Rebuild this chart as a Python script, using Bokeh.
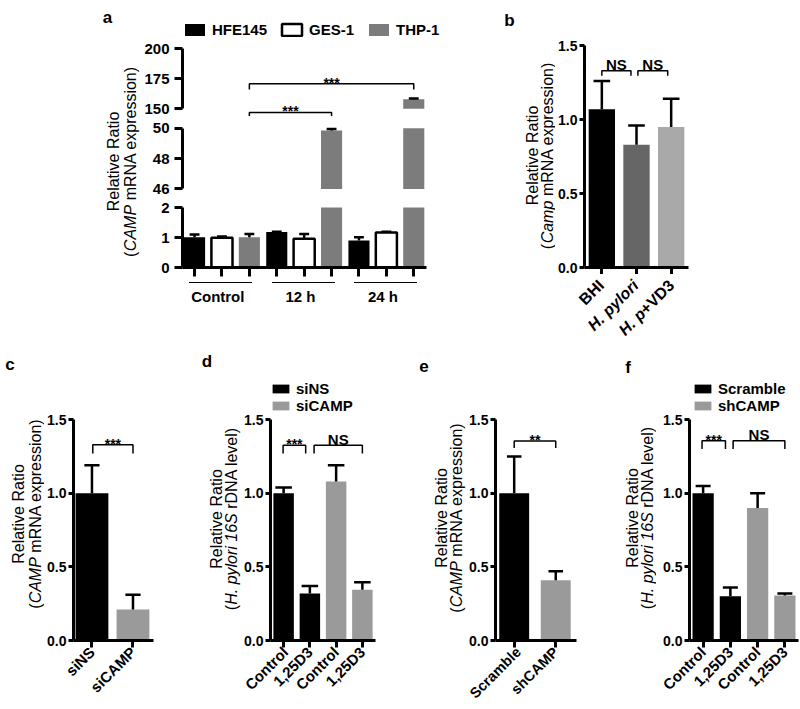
import math
from bokeh.plotting import figure
from bokeh.layouts import row, column
from bokeh.models import (Range1d, FixedTicker, ColumnDataSource, Legend, LegendItem,
                          NumeralTickFormatter, Div)
from bokeh.core.properties import value
from bokeh.embed import file_html
from bokeh.resources import INLINE

FONT = "Liberation Sans"
NAN = float("nan")

# ---------------- data ----------------
# panel a
a_groups = ["Control", "12 h", "24 h"]
a_series = ["HFE145", "GES-1", "THP-1"]
a_hfe145 = [1.01, 1.18, 0.90]
a_hfe145_err = [0.09, 0.01, 0.11]
a_ges1 = [0.99, 0.96, 1.17]
a_ges1_err = [0.04, 0.16, 0.02]
a_thp1 = [1.01, 49.85, 158.0]
a_thp1_err = [0.11, 0.10, 0.5]
a_segments = [(0, 2), (46, 50), (150, 200)]
a_seg_ticks = [[0, 1, 2], [46, 48, 50], [150, 175, 200]]

# panel b
b_cats = ["BHI", "H. pylori", "H. p+VD3"]
b_cats_italic_part = ["", "H. pylori", "H. p"]
b_vals = [1.07, 0.83, 0.95]
b_err = [0.19, 0.13, 0.19]

# panel c
c_cats = ["siNS", "siCAMP"]
c_vals = [1.00, 0.21]
c_err = [0.19, 0.10]

# panel d
d_cats = ["Control", "1,25D3", "Control", "1,25D3"]
d_series = ["siNS", "siCAMP"]
d_sins = [1.00, 0.32]
d_sins_err = [0.04, 0.05]
d_sicamp = [1.08, 0.345]
d_sicamp_err = [0.11, 0.05]

# panel e
e_cats = ["Scramble", "shCAMP"]
e_vals = [1.00, 0.41]
e_err = [0.25, 0.06]

# panel f
f_cats = ["Control", "1,25D3", "Control", "1,25D3"]
f_series = ["Scramble", "shCAMP"]
f_scr = [1.00, 0.30]
f_scr_err = [0.05, 0.06]
f_sh = [0.90, 0.305]
f_sh_err = [0.10, 0.015]

# ---------------- styles ----------------
BLACK = "#000000"
GRAY = "#9a9a9a"
A_COLORS = {"HFE145": ("#000000", None, 1), "GES-1": ("#ffffff", "#000000", 2.5),
            "THP-1": ("#7c7c7c", None, 1)}
B_COLORS = ["#000000", "#666666", "#a9a9a9"]

REG = {' ': 278, '(': 333, ')': 333, '.': 278, '+': 584, ',': 278, '-': 333,
       'A': 667, 'B': 667, 'C': 722, 'D': 722, 'E': 667, 'F': 611, 'G': 778, 'H': 722,
       'I': 278, 'M': 833, 'N': 722, 'P': 667, 'R': 722, 'S': 667, 'V': 667,
       'a': 556, 'b': 556, 'c': 500, 'd': 556, 'e': 556, 'i': 222, 'l': 222, 'm': 833,
       'n': 556, 'o': 556, 'p': 556, 'r': 333, 's': 500, 't': 278, 'v': 500, 'x': 500, 'y': 500}


def tw(s, size):
    return sum(REG.get(ch, 556) for ch in s) * size / 1000.0


def clean(p):
    p.min_border = 0
    p.outline_line_color = None
    p.grid.visible = False
    p.background_fill_color = "white"
    p.border_fill_color = "white"


def base_fig(width, height, xr, yr, mbl, mbr, mbt, mbb, xaxis=True, yaxis=True):
    p = figure(width=width, height=height, x_range=xr, y_range=yr,
               output_backend="svg", toolbar_location=None, tools="",
               x_axis_location="below" if xaxis else None,
               y_axis_location="left" if yaxis else None)
    clean(p)
    p.min_border_left = mbl
    p.min_border_right = mbr
    p.min_border_top = mbt
    p.min_border_bottom = mbb
    return p


def strip(x0, x1, y0, y1):
    """A text-only strip whose data units equal the page's pixels (y downwards)."""
    p = figure(width=x1 - x0, height=y1 - y0, x_range=Range1d(x0, x1),
               y_range=Range1d(y1, y0), output_backend="svg", toolbar_location=None,
               tools="", x_axis_location=None, y_axis_location=None)
    clean(p)
    return p


def style_axis(ax, size, tick_out, standoff):
    ax.axis_line_width = 3
    ax.axis_line_color = "black"
    ax.major_tick_line_width = 3
    ax.major_tick_line_color = "black"
    ax.major_tick_in = 0
    ax.major_tick_out = tick_out
    ax.minor_tick_line_color = None
    ax.major_label_text_font = FONT
    ax.major_label_text_font_style = "bold"
    ax.major_label_text_font_size = size
    ax.major_label_text_color = "black"
    ax.major_label_standoff = standoff


def label_free_ticks(ax, ticks, tick_out):
    """Tick marks without labels: drawn as minor ticks styled like major ones."""
    ax.ticker = FixedTicker(ticks=[], minor_ticks=list(ticks))
    ax.axis_line_width = 3
    ax.axis_line_color = "black"
    ax.minor_tick_line_color = "black"
    ax.minor_tick_line_width = 3
    ax.minor_tick_in = 0
    ax.minor_tick_out = tick_out
    ax.major_tick_line_color = None


def errbars(p, xs, vals, errs, cap):
    src = ColumnDataSource(dict(
        x=list(xs), y0=list(vals), y1=[v + e for v, e in zip(vals, errs)],
        xl=[x - cap / 2 for x in xs], xr=[x + cap / 2 for x in xs]))
    p.segment(x0="x", y0="y0", x1="x", y1="y1", source=src, line_color="black", line_width=2.5)
    p.segment(x0="xl", y0="y1", x1="xr", y1="y1", source=src, line_color="black", line_width=2.5)


def txt(p, x, y, s, size, style="normal", angle=0.0, align="left", baseline="middle",
        xo=0.0, yo=0.0):
    p.text(x=[x], y=[y], text=[s], angle=angle, text_font=value(FONT),
           text_font_size=f"{size}px", text_font_style=style, text_align=align,
           text_baseline=baseline, text_color="black", x_offset=xo, y_offset=yo)


def bracket(p, x1, x2, y, drop, text, size, dy):
    p.line(x=[x1, x1, x2, x2], y=[y - drop, y, y, y - drop], line_color="black", line_width=1.5)
    txt(p, (x1 + x2) / 2, y, text, size, style="bold", align="center",
        baseline="alphabetic", yo=dy)


def ylabel(p, x1, x2, yc, line1, pieces, size=16, pad=0.3):
    """Two-line vertical axis title; line 2 = regular '(' + italic part + regular rest."""
    txt(p, x1, yc, line1, size, angle=math.pi / 2, align="center")
    (open_t, _), (ital_t, _), (rest_t, _) = pieces
    rest = rest_t.lstrip(" ")
    space = (len(rest_t) - len(rest)) * REG[" "] * size / 1000.0
    w_open, w_ital, w_rest = tw(open_t, size), tw(ital_t, size), tw(rest, size)
    total = w_open + w_ital + space + w_rest + 2 * pad
    y0 = yc + total / 2
    txt(p, x2, y0, open_t, size, angle=math.pi / 2, align="left")
    j1 = y0 - w_open - pad
    j2 = j1 - w_ital - space - pad
    txt(p, x2, (j1 + j2 + space) / 2, ital_t, size, style="italic",
        angle=math.pi / 2, align="center")
    txt(p, x2, j2, rest, size, angle=math.pi / 2, align="left")


# ---- HTML text boxes (used where a canvas strip would be too small) ----
CSS_FONT = f"font-family:'{FONT}',Arial,sans-serif;color:#000;"


def html_box(ox, oy, w, h, parts):
    inner = "".join(parts)
    html = (f'<div style="position:relative;width:{w}px;height:{h}px;overflow:hidden;'
            f'{CSS_FONT}">{inner}</div>')
    return Div(text=html, width=w, height=h, margin=0)


def h_vlabel(ox, oy, x1, x2, yc, line1, line2, size=16):
    lx, ly, lh = (x1 + x2) / 2 - ox, yc - oy, x2 - x1
    return (f'<div style="position:absolute;left:{lx:.1f}px;top:{ly:.1f}px;'
            f'transform:translate(-50%,-50%) rotate(-90deg);white-space:nowrap;'
            f'text-align:center;font-size:{size}px;line-height:{lh:.1f}px;">'
            f'{line1}<br>{line2}</div>')


def h_letter(ox, oy, x, baseline, ch, size=17):
    cy = baseline - 0.3465 * size
    return (f'<div style="position:absolute;left:{x - ox:.1f}px;top:{cy - oy:.1f}px;'
            f'transform:translate(-50%,-50%);font-size:{size}px;line-height:{size}px;'
            f'font-weight:bold;">{ch}</div>')


def h_text(ox, oy, x, y, html, size, bold=True):
    fw = "bold" if bold else "normal"
    return (f'<div style="position:absolute;left:{x - ox:.1f}px;top:{y - oy:.1f}px;'
            f'transform:translate(-50%,-50%);font-size:{size}px;line-height:{size}px;'
            f'font-weight:{fw};white-space:nowrap;">{html}</div>')


def h_hline(ox, oy, x0, x1, y, lw=1.5):
    return (f'<div style="position:absolute;left:{x0 - ox:.1f}px;top:{y - oy - lw / 2:.1f}px;'
            f'width:{x1 - x0:.1f}px;height:0;border-top:{lw}px solid #000;"></div>')


def h_rot45(ox, oy, w, ax, ay, html, size):
    return (f'<div style="position:absolute;right:{w - (ax - ox):.1f}px;'
            f'top:{ay - oy - size / 2:.1f}px;height:{size}px;line-height:{size}px;'
            f'font-size:{size}px;font-weight:bold;white-space:nowrap;'
            f'transform-origin:100% 50%;transform:rotate(-45deg);">{html}</div>')


CAMP_PIECES = [("(", False), ("CAMP", True), (" mRNA expression)", False)]
CAMP_LOWER = [("(", False), ("Camp", True), (" mRNA expression)", False)]
CAMP_HTML = "(<i>CAMP</i> mRNA expression)"
HP_HTML = "(<i>H. pylori 16S</i> rDNA level)"

TOP_H = 340
BOT_H = 369

# ---------------- panel a ----------------
A_W, A_MBL, A_LEFT = 319, 40, 141
A_PX = 27.5
A_X0 = -0.44
a_xr = Range1d(A_X0, A_X0 + (A_W - A_MBL) / A_PX)
a_top = base_fig(A_W, 119, a_xr, Range1d(141.08, 240.25), A_MBL, 0, 0, 0, xaxis=False)
a_mid = base_fig(A_W, 79, a_xr, Range1d(45.375, 50.572), A_MBL, 0, 0, 0, xaxis=False)
a_bot = base_fig(A_W, 83, a_xr, Range1d(0, 2.3), A_MBL, 0, 0, 14)

series_vals = [a_hfe145, a_ges1, a_thp1]
series_errs = [a_hfe145_err, a_ges1_err, a_thp1_err]
top_renderers = {}
for (lo, hi), ticks, p in zip(a_segments, a_seg_ticks, [a_bot, a_mid, a_top]):
    for s_i, (name, vals, errs) in enumerate(zip(a_series, series_vals, series_errs)):
        xs = [3 * g + s_i for g in range(len(a_groups))]
        tops = [min(v, hi) if v > lo else NAN for v in vals]
        src = ColumnDataSource(dict(x=xs, top=tops))
        fill, line, lw = A_COLORS[name]
        r = p.vbar(x="x", top="top", bottom=lo, width=0.77, source=src,
                   fill_color=fill, line_color=line, line_width=lw)
        if p is a_top:
            top_renderers[name] = r
        ek = [(x, v, e) for x, v, e in zip(xs, vals, errs) if lo <= v <= hi]
        if ek:
            errbars(p, [k[0] for k in ek], [k[1] for k in ek], [k[2] for k in ek], 0.36)
    ax = p.yaxis[0]
    style_axis(ax, "15px", 8, 5)
    ax.ticker = FixedTicker(ticks=ticks)
    ax.bounds = (lo, hi)

bx = a_bot.xaxis[0]
label_free_ticks(bx, range(9), 9)
bx.bounds = (-0.44, 8.47)

bracket(a_top, 2, 5, 146.9, 2.9, "***", 14, -1.5)
bracket(a_top, 2, 8, 170.8, 4.7, "***", 14, -1)

leg_a = Legend(items=[LegendItem(label=n, renderers=[top_renderers[n]]) for n in a_series],
               orientation="horizontal", location=(0, 81), glyph_width=25, glyph_height=15,
               label_standoff=5, spacing=12, padding=0, margin=0, border_line_color=None,
               background_fill_alpha=0, label_text_font=FONT, label_text_font_style="bold",
               label_text_font_size="15px", label_text_color="black", label_height=15)
a_top.add_layout(leg_a)


def a_px(x):
    """page x of a bar-index position in panel a"""
    return A_LEFT + A_MBL + (x - A_X0) * A_PX


grp_parts = []
for g, gname in enumerate(a_groups):
    grp_parts.append(h_hline(A_LEFT, 281, a_px(3 * g - 0.15), a_px(3 * g + 2.15), 282.7))
    grp_parts.append(h_text(A_LEFT, 281, a_px(3 * g + 0.9), 295.7, gname, 15))
a_grp = html_box(A_LEFT, 281, A_W, TOP_H - 281, grp_parts)

a_strip = strip(0, 141, 0, TOP_H)
ylabel(a_strip, 112.5, 130, 161, "Relative Ratio", CAMP_PIECES)
txt(a_strip, 107, 17, "a", 17, style="bold", align="center", baseline="alphabetic")

# ---------------- panel b ----------------
B_PX, B_LEFT, B_MBL = 35.0, 555, 28
b_fig = base_fig(245, 274, Range1d(-0.5, 2.5), Range1d(0, 1.6014), B_MBL, 112, 30, 7)
b_x = list(range(len(b_cats)))
b_fig.vbar(x="x", top="top", bottom=0, width=0.76, line_color=None, fill_color="color",
           source=ColumnDataSource(dict(x=b_x, top=b_vals, color=B_COLORS)))
errbars(b_fig, b_x, b_vals, b_err, 0.48)
bracket(b_fig, 0, 0.84, 1.33, 0.034, "NS", 15, -6)
bracket(b_fig, 1.04, 1.9, 1.33, 0.034, "NS", 15, -6)
style_axis(b_fig.yaxis[0], "14px", 5, 2)
b_fig.yaxis[0].ticker = FixedTicker(ticks=[0, 0.5, 1.0, 1.5])
b_fig.yaxis[0].formatter = NumeralTickFormatter(format="0.0")
b_fig.yaxis[0].bounds = (0, 1.5)
label_free_ticks(b_fig.xaxis[0], b_x, 7)

b_parts = []
for i, (cat, ital) in enumerate(zip(b_cats, b_cats_italic_part)):
    html = (f"<i>{ital}</i>" if ital else "") + cat[len(ital):]
    anchor_x = B_LEFT + B_MBL + (i + 0.5) * B_PX + 1
    b_parts.append(h_rot45(B_LEFT, 274, 245, anchor_x, 283, html, 16))
b_xlab = html_box(B_LEFT, 274, 245, TOP_H - 274, b_parts)

b_strip = strip(460, 555, 0, TOP_H)
ylabel(b_strip, 531.5, 547, 155, "Relative Ratio", CAMP_LOWER)
txt(b_strip, 509, 20, "b", 17, style="bold", align="center", baseline="alphabetic")


# ---------------- bottom row ----------------
def bottom_fig(width, mbl, mbr, xr, n, cats, label_size):
    p = base_fig(width, BOT_H, xr, Range1d(0, 1.8), mbl, mbr, 35, 68)
    ya = p.yaxis[0]
    style_axis(ya, "14px", 5, 2)
    ya.ticker = FixedTicker(ticks=[0, 0.5, 1.0, 1.5])
    ya.formatter = NumeralTickFormatter(format="0.0")
    ya.bounds = (0, 1.5)
    xa = p.xaxis[0]
    style_axis(xa, label_size, 7, 2)
    xa.ticker = FixedTicker(ticks=list(range(n)))
    xa.major_label_overrides = {i: c for i, c in enumerate(cats)}
    xa.major_label_orientation = math.pi / 4
    return p


def small_legend(p, items, x):
    leg = Legend(items=items, orientation="vertical", location=(x, 226.5), glyph_width=21,
                 glyph_height=11, label_standoff=5, spacing=0, padding=0, margin=0,
                 border_line_color=None, background_fill_alpha=0, label_text_font=FONT,
                 label_text_font_style="bold", label_text_font_size="15px",
                 label_text_color="black", label_height=15)
    p.add_layout(leg)


def side_box(x0, x1, l1x, l2x, yc, line2, letter, lx, lbase):
    parts = [h_vlabel(x0, TOP_H, l1x, l2x, yc, "Relative Ratio", line2),
             h_letter(x0, TOP_H, lx, lbase, letter)]
    return html_box(x0, TOP_H, x1 - x0, BOT_H, parts)


# c
c_side = side_box(0, 44, 19, 35.5, 514, CAMP_HTML, "c", 10, 370)
c_fig = bottom_fig(156, 27, 47, Range1d(-0.45, 1.5), 2, c_cats, "15px")
c_x = list(range(len(c_cats)))
c_fig.vbar(x="x", top="top", bottom=0, width=0.8, line_color=None, fill_color="color",
           source=ColumnDataSource(dict(x=c_x, top=c_vals, color=[BLACK, GRAY])))
errbars(c_fig, c_x, c_vals, c_err, 0.37)
bracket(c_fig, 0.02, 1.0, 1.33, 0.06, "***", 14, -1)

# d
d_side = side_box(200, 241, 216.5, 231, 518.5, HP_HTML, "d", 207, 367)
d_fig = bottom_fig(174, 28, 40, Range1d(-0.5, 3.5), 4, d_cats, "15px")
r1 = d_fig.vbar(x=[0, 1], top=d_sins, bottom=0, width=0.78, fill_color=BLACK, line_color=None)
r2 = d_fig.vbar(x=[2, 3], top=d_sicamp, bottom=0, width=0.78, fill_color=GRAY, line_color=None)
errbars(d_fig, [0, 1], d_sins, d_sins_err, 0.63)
errbars(d_fig, [2, 3], d_sicamp, d_sicamp_err, 0.63)
bracket(d_fig, -0.02, 0.84, 1.327, 0.057, "***", 14, -1)
bracket(d_fig, 1.16, 3.0, 1.327, 0.057, "NS", 15, -6)
small_legend(d_fig, [LegendItem(label=d_series[0], renderers=[r1]),
                     LegendItem(label=d_series[1], renderers=[r2])], 0)

# e
e_side = side_box(415, 466, 441.7, 456.7, 518, CAMP_HTML, "e", 424, 372)
e_fig = bottom_fig(154, 27, 44, Range1d(-0.45, 1.5), 2, e_cats, "14.5px")
e_x = list(range(len(e_cats)))
e_fig.vbar(x="x", top="top", bottom=0, width=0.72, line_color=None, fill_color="color",
           source=ColumnDataSource(dict(x=e_x, top=e_vals, color=[BLACK, GRAY])))
errbars(e_fig, e_x, e_vals, e_err, 0.35)
bracket(e_fig, 0.0, 1.0, 1.355, 0.047, "**", 14, -1)

# f
f_side = side_box(620, 656, 633, 647.5, 518, HP_HTML, "f", 628, 373)
f_fig = bottom_fig(144, 33, 2, Range1d(-0.5, 3.5), 4, f_cats, "15px")
q1 = f_fig.vbar(x=[0, 1], top=f_scr, bottom=0, width=0.78, fill_color=BLACK, line_color=None)
q2 = f_fig.vbar(x=[2, 3], top=f_sh, bottom=0, width=0.78, fill_color=GRAY, line_color=None)
errbars(f_fig, [0, 1], f_scr, f_scr_err, 0.55)
errbars(f_fig, [2, 3], f_sh, f_sh_err, 0.55)
bracket(f_fig, -0.04, 0.82, 1.357, 0.057, "***", 14, -1)
bracket(f_fig, 1.1, 3.0, 1.357, 0.057, "NS", 15, -6)
small_legend(f_fig, [LegendItem(label=f_series[0], renderers=[q1]),
                     LegendItem(label=f_series[1], renderers=[q2])], 3)

# ---------------- layout ----------------
a_col = column(a_top, a_mid, a_bot, a_grp, spacing=0)
b_col = column(b_fig, b_xlab, spacing=0)
top = row(a_strip, a_col, b_strip, b_col, spacing=0)
bottom = row(c_side, c_fig, d_side, d_fig, e_side, e_fig, f_side, f_fig, spacing=0)
layout = column(top, bottom, spacing=0)

open("out.html", "w").write(file_html(layout, INLINE))
